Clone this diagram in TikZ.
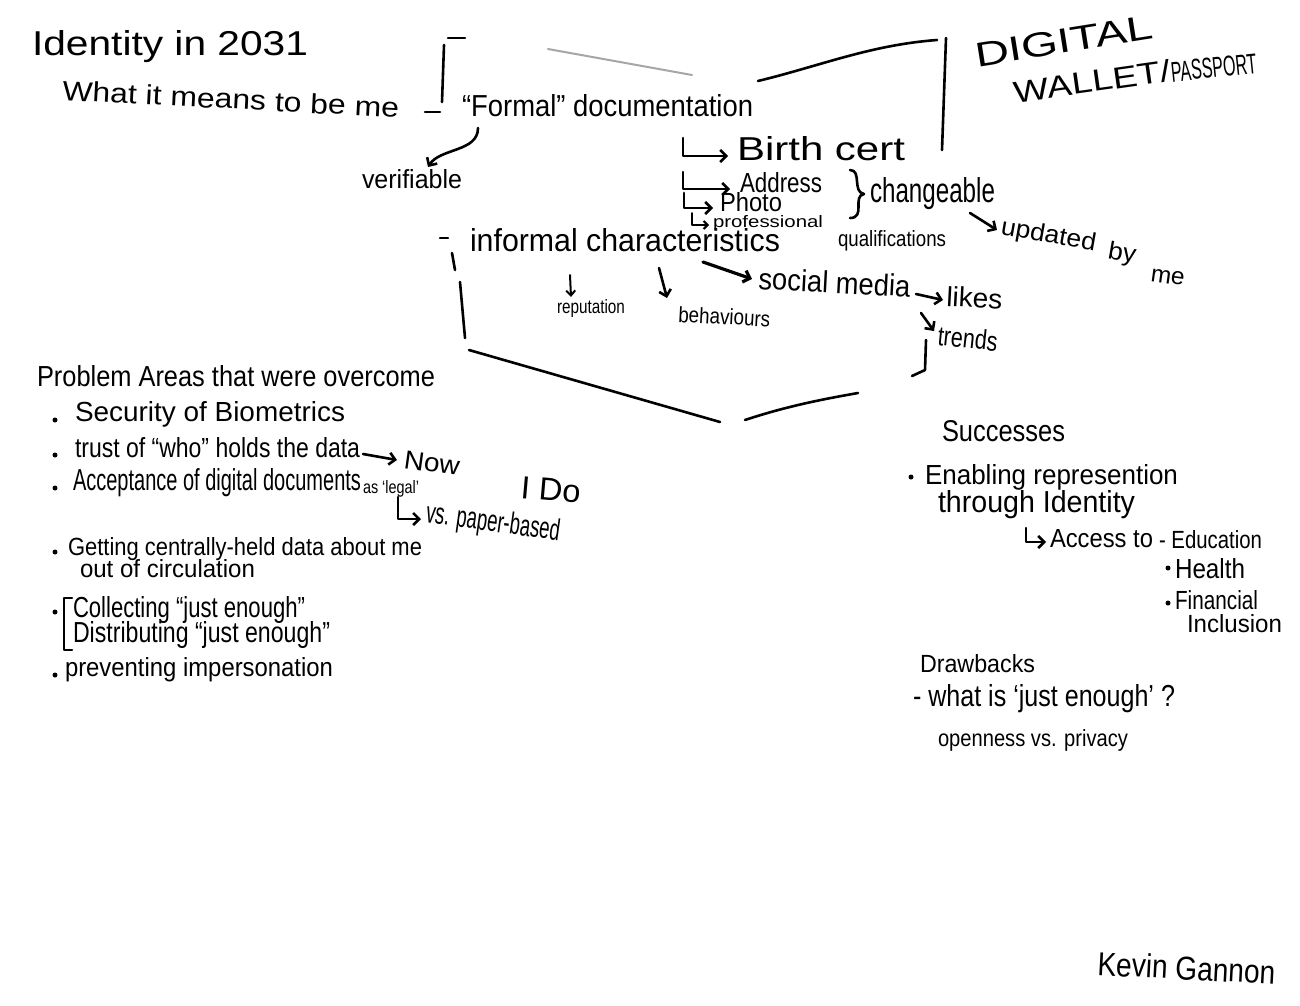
\documentclass[tikz,border=0pt]{standalone}
\usepackage{fontspec}
\setmainfont{Liberation Sans}
\usepackage{graphicx}
\usetikzlibrary{arrows.meta}
% handwritten-style label: width, cap height, text
\newcommand\hw[3]{\resizebox{#1pt}{#2pt}{#3}}
\tikzset{
  ink/.style={draw=black, line width=2.6pt, line cap=round, line join=round},
  txt/.style={anchor=base west, inner sep=0pt, outer sep=0pt, text=black},
  arr/.style={ink, -{Straight Barb[length=6pt,width=12pt]}},
  bullet/.style={circle, fill=black, inner sep=0pt, minimum size=5pt},
}
\begin{document}
\begin{tikzpicture}[x=1pt,y=-1pt]
\useasboundingbox (0,0) rectangle (1300,1005);
\fill[white] (0,0) rectangle (1300,1005);

% ---- heading ----
\node[txt] (title) at (32,55) {\hw{276}{25}{Identity in 2031}};
\node[txt,rotate=-3] (means) at (62,100) {\hw{337}{20}{What it means to be me}};

% ---- wallet box outline ----
\draw[ink] (465,38) -- (448,38);
\draw[ink] (444,45) -- (442,102);
\draw[draw=black!35, line width=2pt, line cap=round] (548,49) -- (692,75);
\draw[ink] (758,81) .. controls (820,66) and (870,45) .. (937,40);
\draw[ink] (946,38) -- (942,150);
\draw[ink] (452,253) -- (455,270);
\draw[ink] (460,282) -- (465,338);
\draw[ink] (469,350) -- (720,422);
\draw[ink] (745,420) .. controls (790,405) and (830,398) .. (858,393);
\draw[ink] (926,340) -- (925,370) -- (912,376);

\node[txt,rotate=9] (digital) at (977,67) {\hw{180}{24}{DIGITAL}};
\node[txt,rotate=8] (wallet) at (1015,103) {\hw{158}{22}{WALLET/}};
\node[txt,rotate=6] (passport) at (1172,82) {\hw{86}{20}{PASSPORT}};

% ---- formal documentation ----
\draw[ink] (425,112) -- (440,112);
\node[txt] (formal) at (462,116) {\hw{291}{22}{``Formal'' documentation}};
\node[txt] (verif) at (362,188) {\hw{100}{19}{verifiable}};
\coordinate (fv) at (478,128);
\draw[arr] (fv) .. controls (478,152) and (440,148) .. (428,167);

\node[txt] (birth) at (737,160) {\hw{168}{24}{Birth cert}};
\node[txt] (addr) at (740,192) {\hw{82}{20}{Address}};
\node[txt] (photo) at (720,211) {\hw{62}{19}{Photo}};
\node[txt] (prof) at (713,227) {\hw{110}{12}{professional}};
\node[txt] (qual) at (838,246) {\hw{108}{16}{qualifications}};

\coordinate (h1) at (683,138);
\coordinate (h2) at (683,172);
\coordinate (h3) at (684,193);
\coordinate (h4) at (692,213);
\draw[arr] (h1) |- ([shift={(-9,-4)}]birth.base west);
\draw[arr] (h2) |- ([shift={(-10,-3)}]addr.base west);
\draw[arr] (h3) |- ([shift={(-7,-3)}]photo.base west);
\draw[ink, -{Straight Barb[length=4pt,width=8pt]}, line width=2pt] (h4) |- ([shift={(-4,-2)}]prof.base west);

% brace and "changeable"
\draw[ink] (850,170) .. controls (862,170) and (852,192) .. (864,194)
           .. controls (852,196) and (866,218) .. (850,218);
\node[txt] (chg) at (870,202) {\hw{125}{25}{changeable}};
\node[txt,rotate=-10] (upd) at (1000,234) {\hw{96}{18}{updated}};
\node[txt,rotate=-10] (by) at (1107,258) {\hw{28}{18}{by}};
\node[txt,rotate=-8] (me) at (1150,281) {\hw{34}{13}{me}};
\coordinate (cu) at (970,213);
\draw[arr] (cu) -- ([shift={(-3,-4)}]upd.base west);

% ---- informal characteristics ----
\draw[ink] (440,238) -- (448,238);
\node[txt] (inf) at (470,251) {\hw{310}{23}{informal characteristics}};
\node[txt,rotate=-3] (soc) at (758,289) {\hw{152}{22}{social media}};
\node[txt,rotate=-3] (likes) at (946,306) {\hw{56}{20}{likes}};
\node[txt,rotate=-6] (trends) at (937,345) {\hw{60}{20}{trends}};
\node[txt] (rep) at (557,313) {\hw{68}{14}{reputation}};
\node[txt,rotate=-3] (beh) at (678,322) {\hw{92}{16}{behaviours}};

\coordinate (is) at (703,262);
\draw[arr, line width=3.2pt] (is) -- ([shift={(-6,-10)}]soc.base west);
\coordinate (sl) at (916,294);
\draw[arr] (sl) -- ([shift={(-3,-6)}]likes.base west);
\coordinate (st) at (921,313);
\draw[arr] (st) -- ([shift={(-3,-14)}]trends.base west);
\coordinate (ir) at (570,275);
\draw[ink, -{Straight Barb[length=5pt,width=9pt]}, line width=2pt] (ir) -- (571,297);
\coordinate (ib) at (659,268);
\draw[arr] (ib) -- (667,298);

% ---- problem areas ----
\node[txt] (prob) at (37,386) {\hw{398}{21}{Problem Areas that were overcome}};
\node[txt] (sec) at (75,421) {\hw{270}{20}{Security of Biometrics}};
\node[txt] (trust) at (75,457) {\hw{285}{20}{trust of ``who'' holds the data}};
\node[txt,rotate=-8] (now) at (403,468) {\hw{56}{18}{Now}};
\node[txt,rotate=-5] (ido) at (520,498) {\hw{60}{22}{I Do}};
\node[txt] (acc) at (73,490) {\hw{288}{22}{Acceptance of digital documents}};
\node[txt] (legal) at (363,493) {\hw{56}{13}{as `legal'}};
\node[txt,rotate=-8] (paper) at (425,522) {\hw{135}{22}{vs. paper-based}};
\node[txt] (get) at (68,555) {\hw{354}{18}{Getting centrally-held data about me}};
\node[txt] (circ) at (80,577) {\hw{175}{18}{out of circulation}};
\node[txt] (coll) at (73,617) {\hw{232}{21}{Collecting ``just enough''}};
\node[txt] (dist) at (73,642) {\hw{257}{21}{Distributing ``just enough''}};
\node[txt] (prev) at (65,676) {\hw{268}{19}{preventing impersonation}};

\foreach \yy in {420,455,488,552,612,675} \node[bullet] at (55,\yy) {};
\draw[ink] (72,598) -- (64,598) -- (64,650) -- (72,650);
\coordinate (tn) at (363,454);
\draw[arr] (tn) -- ([shift={(-6,-8)}]now.base west);
\coordinate (lv) at (398,497);
\draw[arr] (lv) |- ([shift={(-4,-3)}]paper.base west);

% ---- successes ----
\node[txt] (succ) at (942,441) {\hw{123}{21}{Successes}};
\node[txt] (enab) at (925,484) {\hw{253}{20}{Enabling represention}};
\node[txt] (thru) at (938,512) {\hw{197}{22}{through Identity}};
\node[txt] (acc2) at (1050,547) {\hw{103}{18}{Access to}};
\node[txt] (edu) at (1159,548) {\hw{103}{18}{- Education}};
\node[txt] (health) at (1175,578) {\hw{70}{20}{Health}};
\node[txt] (fin) at (1175,609) {\hw{83}{19}{Financial}};
\node[txt] (incl) at (1187,632) {\hw{95}{18}{Inclusion}};
\foreach \xx/\yy in {911/477,1168/568,1168/603} \node[bullet] at (\xx,\yy) {};
\coordinate (ea) at (1026,528);
\draw[arr] (ea) |- ([shift={(-4,-5)}]acc2.base west);

% ---- drawbacks ----
\node[txt] (drawb) at (920,672) {\hw{115}{18}{Drawbacks}};
\node[txt] (what) at (913,706) {\hw{262}{22}{- what is `just enough' ?}};
\node[txt] (open) at (938,746) {\hw{190}{17}{openness vs. privacy}};

% ---- signature ----
\node[txt,rotate=-3] (kevin) at (1097,975) {\hw{178}{24}{Kevin Gannon}};
\end{tikzpicture}
\end{document}
